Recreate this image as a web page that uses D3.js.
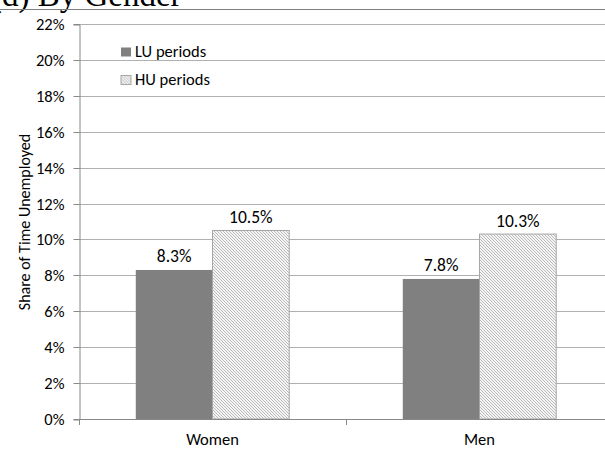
<!DOCTYPE html>
<html>
<head>
<meta charset="utf-8">
<script src="https://cdn.jsdelivr.net/npm/d3@7"></script>
<style>
  html, body { margin: 0; padding: 0; background: #fff; }
  svg { display: block; }
  text { font-family: Carlito, Lato, "Open Sans", sans-serif; fill: #000; }
</style>
</head>
<body>
<div id="chart"></div>
<script>
// 数据
const CATEGORIES = ["Women", "Men"];
const SERIES = ["LU periods", "HU periods"];
const LU_VALUES = [0.083, 0.078];
const HU_VALUES = [0.105, 0.103];
const Y_TICKS = [0, 0.02, 0.04, 0.06, 0.08, 0.10, 0.12, 0.14, 0.16, 0.18, 0.20, 0.22];

const W = 605, H = 450;
const svg = d3.select("#chart").append("svg").attr("width", W).attr("height", H);

// 斜线填充
const defs = svg.append("defs");
const pat = defs.append("pattern").attr("id", "hatch")
  .attr("patternUnits", "userSpaceOnUse").attr("width", 3).attr("height", 3);
pat.append("rect").attr("width", 3).attr("height", 3).attr("fill", "#f4f4f4");
pat.append("path").attr("d", "M-1,-1 L4,4 M-1,2 L1,4 M2,-1 L4,1")
  .attr("stroke", "#b4b4b4").attr("stroke-width", 0.9);

// 顶部被裁掉的标题
svg.append("text").attr("x", -9).attr("y", 5.5)
  .style("font-family", "'Liberation Serif', 'Times New Roman', serif")
  .style("font-size", "33px").text("(d) By Gender");
svg.append("line").attr("x1", 0).attr("x2", W).attr("y1", 9.5).attr("y2", 9.5)
  .attr("stroke", "#7f7f7f").attr("stroke-width", 1);

const mLeft = 79, mRight = 613, mTop = 24, mBottom = 419;
const y = d3.scaleLinear().domain([0, 0.22]).range([mBottom, mTop]);
const x = d3.scaleBand().domain(CATEGORIES).range([mLeft, mRight]);
const x1 = d3.scaleBand().domain(SERIES).range([0, x.bandwidth()]).paddingOuter(0.74);

// 网格线
svg.append("g").selectAll("line").data(Y_TICKS.slice(1)).join("line")
  .attr("x1", mLeft).attr("x2", W)
  .attr("y1", (d) => Math.round(y(d)) + 0.5).attr("y2", (d) => Math.round(y(d)) + 0.5)
  .attr("stroke", "#b0b0b0").attr("stroke-width", 1);

// Y 轴
const yAxis = svg.append("g").attr("transform", `translate(${mLeft + 0.5},0.5)`)
  .call(d3.axisLeft(y).tickValues(Y_TICKS).tickFormat(d3.format(".0%")).tickSize(6).tickPadding(9));
yAxis.select(".domain").attr("stroke", "#888");
yAxis.selectAll(".tick line").attr("stroke", "#888");
yAxis.selectAll(".tick text").style("font-size", "16.5px").style("font-family", "Carlito, Lato, sans-serif");
yAxis.selectAll(".tick").attr("transform", (d) => `translate(0,${Math.round(y(d))})`);

svg.append("text")
  .attr("transform", "translate(30,222) rotate(-90)")
  .attr("text-anchor", "middle").style("font-size", "16px")
  .text("Share of Time Unemployed");

// 柱子
const rows = CATEGORIES.map((c, i) => ({ c, vals: [LU_VALUES[i], HU_VALUES[i]] }));
const g = svg.append("g").selectAll("g").data(rows).join("g")
  .attr("transform", (d) => `translate(${x(d.c)},0)`);
g.selectAll("rect").data((d) => d.vals.map((v, j) => ({ s: SERIES[j], v }))).join("rect")
  .attr("x", (d) => x1(d.s)).attr("width", x1.bandwidth())
  .attr("y", (d) => y(d.v)).attr("height", (d) => mBottom - y(d.v))
  .attr("fill", (d) => d.s === SERIES[0] ? "#808080" : "url(#hatch)")
  .attr("stroke", (d) => d.s === SERIES[0] ? "none" : "#a6a6a6")
  .attr("stroke-width", 1);
g.selectAll("text").data((d) => d.vals.map((v, j) => ({ s: SERIES[j], v }))).join("text")
  .attr("x", (d) => x1(d.s) + x1.bandwidth() / 2).attr("y", (d) => y(d.v) - 7.5)
  .attr("text-anchor", "middle").style("font-size", "17.5px")
  .text((d) => d3.format(".1%")(d.v));

// X 轴
const xAxis = svg.append("g").attr("transform", `translate(0,${mBottom + 0.5})`)
  .call(d3.axisBottom(x).tickSize(0).tickPadding(14));
xAxis.select(".domain").attr("stroke", "#888").attr("d", `M${mLeft},0H${mRight}`);
xAxis.selectAll(".tick text").attr("dy", 0).attr("y", 25.5)
  .style("font-size", "16.5px").style("font-family", "Carlito, Lato, sans-serif");
svg.append("g").selectAll("line").data([mLeft, mLeft + x.bandwidth(), mRight]).join("line")
  .attr("x1", (d) => d + 0.5).attr("x2", (d) => d + 0.5)
  .attr("y1", mBottom).attr("y2", mBottom + 6).attr("stroke", "#888");

// 图例
const lg = svg.append("g").selectAll("g").data(SERIES).join("g")
  .attr("transform", (d, i) => `translate(121,${47.5 + i * 28})`);
lg.append("rect").attr("width", 10).attr("height", 9)
  .attr("fill", (d, i) => i === 0 ? "#808080" : "url(#hatch)")
  .attr("stroke", (d, i) => i === 0 ? "none" : "#a6a6a6");
lg.append("text").attr("x", 14).attr("y", 9.5).style("font-size", "16.5px").text((d) => d);
</script>
</body>
</html>
